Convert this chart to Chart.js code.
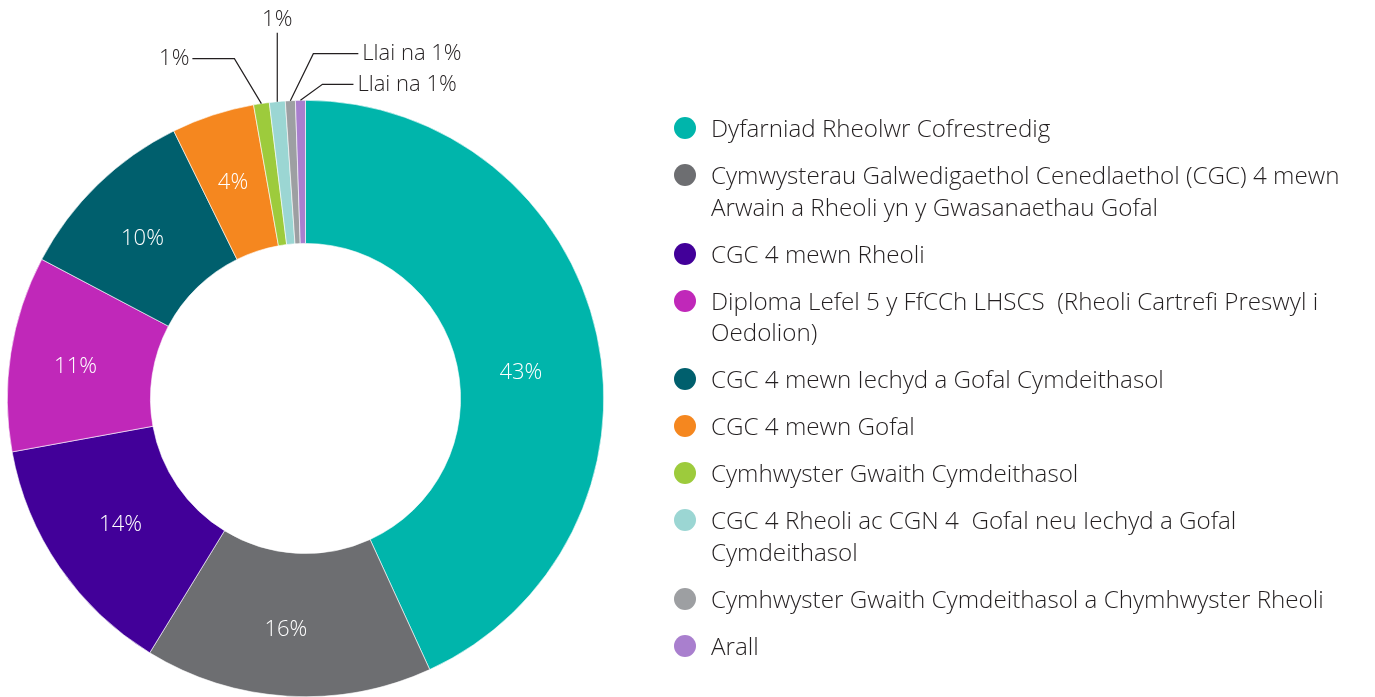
<!DOCTYPE html>
<html>
<head>
<meta charset="utf-8">
<script src="https://cdn.jsdelivr.net/npm/chart.js@4"></script>
<style>
  html, body { margin: 0; padding: 0; background: #fff; overflow: hidden; }
  #wrap { position: relative; width: 1375px; height: 697px; }
  #myChart { position: absolute; left: 0; top: 0; }
  #legend {
    position: absolute; left: 672px; top: 112px;
    font-family: "Open Sans", "Noto Sans", sans-serif; font-weight: 300;
    font-size: 24.2px; color: #231f20; line-height: 31.5px;
  }
  .item { position: relative; padding-left: 39px; margin-bottom: 15.5px; white-space: pre; }
  .dot { position: absolute; left: 2px; top: 5px; width: 22px; height: 22px; border-radius: 50%; }
</style>
</head>
<body>
<div id="wrap">
  <canvas id="myChart" width="1375" height="697"></canvas>
  <div id="legend"></div>
</div>
<script>
const categories = [
  "Dyfarniad Rheolwr Cofrestredig",
  "Cymwysterau Galwedigaethol Cenedlaethol (CGC) 4 mewn\nArwain a Rheoli yn y Gwasanaethau Gofal",
  "CGC 4 mewn Rheoli",
  "Diploma Lefel 5 y FfCCh LHSCS  (Rheoli Cartrefi Preswyl i\nOedolion)",
  "CGC 4 mewn Iechyd a Gofal Cymdeithasol",
  "CGC 4 mewn Gofal",
  "Cymhwyster Gwaith Cymdeithasol",
  "CGC 4 Rheoli ac CGN 4  Gofal neu Iechyd a Gofal\nCymdeithasol",
  "Cymhwyster Gwaith Cymdeithasol a Chymhwyster Rheoli",
  "Arall",
];
const values = [43.2, 15.6, 13.4, 10.6, 10.0, 4.5, 0.85, 0.86, 0.54, 0.54];
const sliceLabels = ["43%", "16%", "14%", "11%", "10%", "4%", "1%", "1%", "Llai na 1%", "Llai na 1%"];
const colors = ["#00b5ab", "#6d6e71", "#420099", "#c028b9", "#005f6d", "#f5871f", "#9dcb3c", "#9bd6d3", "#9d9fa2", "#a97fce"];

// small nudges for the inside labels (Excel doesn't put them exactly mid-arc)
const labelShift = [[-6, 23], [-6, 5], [2, -2], [-6, 3], [-5, 3], [-2, 0]];

// leader lines for the small slices: elbow / end offsets from the outer edge of the arc
const leaders = {
  6: { elbow: [-27, -45], end: [-69, -45], align: "right" },
  7: { elbow: [0, -69], end: [0, -69], align: "center" },
  8: { elbow: [23, -47], end: [68, -47], align: "left" },
  9: { elbow: [22, -16], end: [53, -16], align: "left" },
};

const FONT = '300 22px "Open Sans", "Noto Sans", sans-serif';

const labelPlugin = {
  id: "sliceLabels",
  afterDatasetsDraw(chart) {
    const c = chart.ctx;
    const meta = chart.getDatasetMeta(0);
    c.save();
    c.font = FONT;
    meta.data.forEach((arc, i) => {
      const lead = leaders[i];
      if (!lead) {
        const p = arc.tooltipPosition();
        const s = labelShift[i] || [0, 0];
        c.fillStyle = "#ffffff";
        c.textAlign = "center";
        c.textBaseline = "middle";
        c.fillText(sliceLabels[i], p.x + s[0], p.y + s[1]);
        return;
      }
      const mid = (arc.startAngle + arc.endAngle) / 2;
      const ax = arc.x + Math.cos(mid) * arc.outerRadius;
      const ay = arc.y + Math.sin(mid) * arc.outerRadius;
      const ex = ax + lead.elbow[0], ey = ay + lead.elbow[1];
      const tx = ax + lead.end[0], ty = ay + lead.end[1];
      c.strokeStyle = "#231f20";
      c.lineWidth = 1.2;
      c.beginPath();
      c.moveTo(ax, ay);
      c.lineTo(ex, ey);
      c.lineTo(tx, ty);
      c.stroke();
      c.fillStyle = "#231f20";
      c.textBaseline = "middle";
      if (lead.align === "right") {
        c.textAlign = "right";
        c.fillText(sliceLabels[i], tx - 3, ty);
      } else if (lead.align === "left") {
        c.textAlign = "left";
        c.fillText(sliceLabels[i], tx + 4, ty);
      } else {
        c.textAlign = "center";
        c.fillText(sliceLabels[i], tx, ty - 13);
      }
    });
    c.restore();
  },
};

const ctx = document.getElementById("myChart").getContext("2d");
const chart = new Chart(ctx, {
  type: "doughnut",
  data: {
    labels: categories,
    datasets: [{
      data: values,
      backgroundColor: colors,
      borderColor: "#ffffff",
      borderWidth: 0.6,
    }],
  },
  options: {
    responsive: false,
    animation: false,
    cutout: "52%",
    layout: { padding: { left: 7, right: 771, top: 100, bottom: 0 } },
    plugins: {
      legend: { display: false },
      tooltip: { enabled: false },
    },
  },
  plugins: [labelPlugin],
});

// html legend
const legendEl = document.getElementById("legend");
categories.forEach((cat, i) => {
  const item = document.createElement("div");
  item.className = "item";
  const dot = document.createElement("span");
  dot.className = "dot";
  dot.style.background = colors[i];
  item.appendChild(dot);
  cat.split("\n").forEach((line, k) => {
    if (k > 0) item.appendChild(document.createElement("br"));
    item.appendChild(document.createTextNode(line));
  });
  legendEl.appendChild(item);
});
</script>
</body>
</html>
